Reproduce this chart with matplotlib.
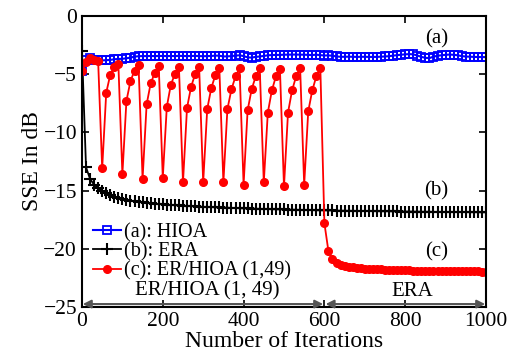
import numpy as np
import matplotlib
matplotlib.use('Agg')
import matplotlib.pyplot as plt

plt.rcParams['font.family'] = ['Liberation Serif', 'DejaVu Serif']

# iterations (one marker every 10 iterations)
iters = list(range(0, 1001, 10))

# (a) HIOA
hioa = [-4.75, -3.8, -3.6, -3.75, -3.8, -3.82, -3.8, -3.78, -3.72, -3.7,
        -3.68, -3.64, -3.58, -3.5, -3.46, -3.45, -3.45, -3.44, -3.45, -3.44,
        -3.44, -3.45, -3.44, -3.45, -3.43, -3.44, -3.45, -3.44, -3.43, -3.45,
        -3.46, -3.45, -3.44, -3.41, -3.42, -3.48, -3.47, -3.45, -3.41, -3.38,
        -3.45, -3.56, -3.58, -3.52, -3.48, -3.44, -3.38, -3.36, -3.35, -3.35,
        -3.33, -3.33, -3.32, -3.32, -3.33, -3.33, -3.35, -3.36, -3.33, -3.37,
        -3.4, -3.39, -3.42, -3.48, -3.51, -3.51, -3.5, -3.51, -3.52, -3.51,
        -3.51, -3.52, -3.52, -3.52, -3.5, -3.48, -3.46, -3.41, -3.37, -3.33,
        -3.3, -3.28, -3.3, -3.4, -3.52, -3.6, -3.62, -3.5, -3.42, -3.38,
        -3.34, -3.32, -3.34, -3.38, -3.45, -3.49, -3.5, -3.52, -3.53, -3.53,
        -3.54]

# (b) ERA
era = [-3.0, -13.0, -14.0, -14.5, -14.8, -15.05, -15.25, -15.4, -15.55, -15.65,
       -15.75, -15.82, -15.88, -15.93, -15.98, -16.02, -16.06, -16.1, -16.13, -16.16,
       -16.19, -16.22, -16.24, -16.26, -16.28, -16.3, -16.32, -16.34, -16.36, -16.38,
       -16.4, -16.41, -16.42, -16.44, -16.45, -16.46, -16.47, -16.49, -16.5, -16.52,
       -16.53, -16.54, -16.55, -16.56, -16.57, -16.58, -16.59, -16.6, -16.61, -16.62,
       -16.62, -16.63, -16.64, -16.65, -16.66, -16.66, -16.67, -16.68, -16.69, -16.7,
       -16.7, -16.71, -16.71, -16.72, -16.73, -16.73, -16.74, -16.74, -16.75, -16.75,
       -16.76, -16.76, -16.77, -16.77, -16.78, -16.78, -16.78, -16.79, -16.79, -16.8,
       -16.8, -16.8, -16.81, -16.81, -16.82, -16.82, -16.82, -16.83, -16.83, -16.83,
       -16.84, -16.84, -16.84, -16.85, -16.85, -16.85, -16.86, -16.86, -16.86, -16.87,
       -16.87]

# (c) ER/HIOA (1,49): ER step every 50 iterations, then ERA only after 600
er_hioa = [-4.77, -4.0, -3.6, -3.8, -3.9,
           -13.1, -6.6, -5.05, -4.4, -4.1,
           -13.6, -7.3, -5.6, -4.7, -4.2,
           -14.0, -7.6, -5.8, -4.9, -4.3,
           -13.9, -7.8, -5.9, -5.0, -4.4,
           -14.3, -7.9, -6.1, -5.0, -4.4,
           -14.3, -8.0, -6.2, -5.1, -4.5,
           -14.3, -8.0, -6.3, -5.2, -4.5,
           -14.5, -8.1, -6.3, -5.2, -4.5,
           -14.3, -8.3, -6.4, -5.2, -4.6,
           -14.65, -8.3, -6.4, -5.2, -4.5,
           -14.5, -8.2, -6.4, -5.2, -4.5,
           -17.8, -20.2, -20.9, -21.2, -21.4, -21.5, -21.55, -21.6, -21.65, -21.68,
           -21.7, -21.72, -21.74, -21.76, -21.78, -21.8, -21.81, -21.82, -21.83, -21.84,
           -21.85, -21.86, -21.87, -21.88, -21.88, -21.89, -21.9, -21.9, -21.91, -21.91,
           -21.92, -21.92, -21.93, -21.93, -21.94, -21.94, -21.95, -21.95, -21.95, -21.96,
           -21.96]

fig = plt.figure(figsize=(5.14, 3.62), dpi=100)
ax = fig.add_axes([0.1595, 0.152, 0.786, 0.804])

ax.plot(iters, era, color='black', lw=1.3, marker='+', ms=8.5, mew=1.5, label='(b): ERA')
ax.plot(iters, hioa, color='#0000ff', lw=1.5, marker='s', ms=5.5, mfc='none', mew=1.3,
        label='(a): HIOA')
ax.plot(iters, er_hioa, color='#ff0000', lw=1.3, marker='o', ms=5.5, label='(c): ER/HIOA (1,49)')

ax.set_xlim(0, 1000)
ax.set_ylim(-25, 0)
ax.set_xticks([0, 200, 400, 600, 800, 1000])
ax.set_yticks([-25, -20, -15, -10, -5, 0])
ax.tick_params(direction='in', top=True, right=True, length=5, width=1.2, labelsize=15.5)
for s in ax.spines.values():
    s.set_linewidth(1.5)

ax.set_xlabel('Number of Iterations', fontsize=17, labelpad=0)
ax.set_ylabel('SSE In dB', fontsize=17, labelpad=0)

h, l = ax.get_legend_handles_labels()
ax.legend([h[1], h[0], h[2]], [l[1], l[0], l[2]], loc='lower left', bbox_to_anchor=(0.027, 0.09),
          frameon=False, fontsize=14.5, labelspacing=0.0, handlelength=1.4,
          handletextpad=0.15, borderpad=0, borderaxespad=0)

ax.text(877, -2.0, '(a)', fontsize=15, ha='center', va='center')
ax.text(877, -15.0, '(b)', fontsize=15, ha='center', va='center')
ax.text(877, -20.3, '(c)', fontsize=15, ha='center', va='center')

arr = dict(arrowstyle='<|-|>', color='#555555', lw=1.5, mutation_scale=12, shrinkA=0, shrinkB=0)
ax.annotate('', xy=(2, -24.75), xytext=(597, -24.75), arrowprops=arr)
ax.annotate('', xy=(603, -24.75), xytext=(998, -24.75), arrowprops=arr)
ax.text(310, -23.65, 'ER/HIOA (1, 49)', fontsize=15, ha='center', va='center')
ax.text(817, -23.7, 'ERA', fontsize=15, ha='center', va='center')

fig.savefig('out.png', dpi=100)
